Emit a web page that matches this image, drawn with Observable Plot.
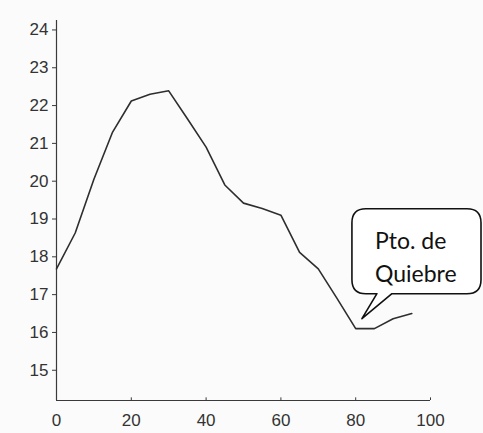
<!DOCTYPE html>
<html>
<head>
<meta charset="utf-8">
<script src="https://cdn.jsdelivr.net/npm/d3@7"></script>
<script src="https://cdn.jsdelivr.net/npm/@observablehq/plot@0.6"></script>
<style>
  html, body { margin: 0; padding: 0; background: #fbfbfb; }
  #chart { width: 483px; height: 433px; overflow: hidden; }
</style>
</head>
<body>
<div id="chart"></div>
<script>
// Data
const xValues = [0, 5, 10, 15, 20, 25, 30, 35, 40, 45, 50, 55, 60, 65, 70, 75, 80, 85, 90, 95];
const yValues = [17.68, 18.63, 20.05, 21.3, 22.12, 22.3, 22.39, 21.65, 20.9, 19.9, 19.42, 19.28, 19.1, 18.12, 17.68, 16.9, 16.1, 16.1, 16.36, 16.5];
const xTicks = [0, 20, 40, 60, 80, 100];
const yTicks = [15, 16, 17, 18, 19, 20, 21, 22, 23, 24];
const xDomain = [0, 100];
const yDomain = [14.2, 24.25];
const calloutLines = ["Pto. de", "Quiebre"];
const calloutTip = [81.8, 16.35];

const data = xValues.map((x, i) => ({x, y: yValues[i]}));
const axisColor = "#3a3a3a";

const chart = Plot.plot({
  width: 483,
  height: 433,
  marginLeft: 56,
  marginRight: 53,
  marginTop: 20,
  marginBottom: 33,
  style: {background: "#fbfbfb", fontFamily: "'Liberation Sans', Arial, sans-serif", fontSize: "17px", color: "#333"},
  x: {domain: xDomain, label: null},
  y: {domain: yDomain, label: null},
  marks: [
    Plot.ruleX([xDomain[0]], {stroke: axisColor, strokeWidth: 1.2}),
    Plot.ruleY([yDomain[0]], {stroke: axisColor, strokeWidth: 1.2}),
    Plot.ruleX(xTicks, {x: d => d, y1: yDomain[0], y2: yDomain[0] + 0.07, stroke: axisColor}),
    Plot.axisY({ticks: yTicks, tickSize: 4, tickPadding: 4, label: null, stroke: axisColor, fontSize: 17}),
    Plot.axisX({ticks: xTicks, tickSize: 0, tickPadding: 13, label: null, fontSize: 17}),
    Plot.line(data, {x: "x", y: "y", stroke: "#2e2e2e", strokeWidth: 1.6, strokeLinejoin: "round"})
  ]
});
document.getElementById("chart").append(chart);

// Speech-bubble annotation anchored to the break point through the plot's scales
const xs = chart.scale("x"), ys = chart.scale("y");
const tx = xs.apply(calloutTip[0]), ty = ys.apply(calloutTip[1]);
const L = tx - 10, T = ty - 110, R = 481, B = ty - 25, r = 14;
const b1 = tx + 15, b2 = tx + 30;
const path = [
  `M${L + r},${T}`,
  `H${R - r}`, `Q${R},${T} ${R},${T + r}`,
  `V${B - r}`, `Q${R},${B} ${R - r},${B}`,
  `H${b2}`, `L${tx},${ty}`, `L${b1},${B}`,
  `H${L + r}`, `Q${L},${B} ${L},${B - r}`,
  `V${T + r}`, `Q${L},${T} ${L + r},${T}`, "Z"
].join(" ");
const g = d3.select(chart).append("g").attr("text-anchor", "start");
g.append("path").attr("d", path).attr("fill", "#ffffff").attr("stroke", "#111").attr("stroke-width", 1.6).attr("stroke-linejoin", "round");
g.selectAll("text").data(calloutLines).join("text")
  .attr("x", L + 23)
  .attr("y", (d, i) => T + 40 + i * 33)
  .attr("text-anchor", "start")
  .attr("fill", "#111")
  .style("font-family", "Lato, 'Open Sans', sans-serif")
  .style("font-size", "23px")
  .text(d => d);
</script>
</body>
</html>
